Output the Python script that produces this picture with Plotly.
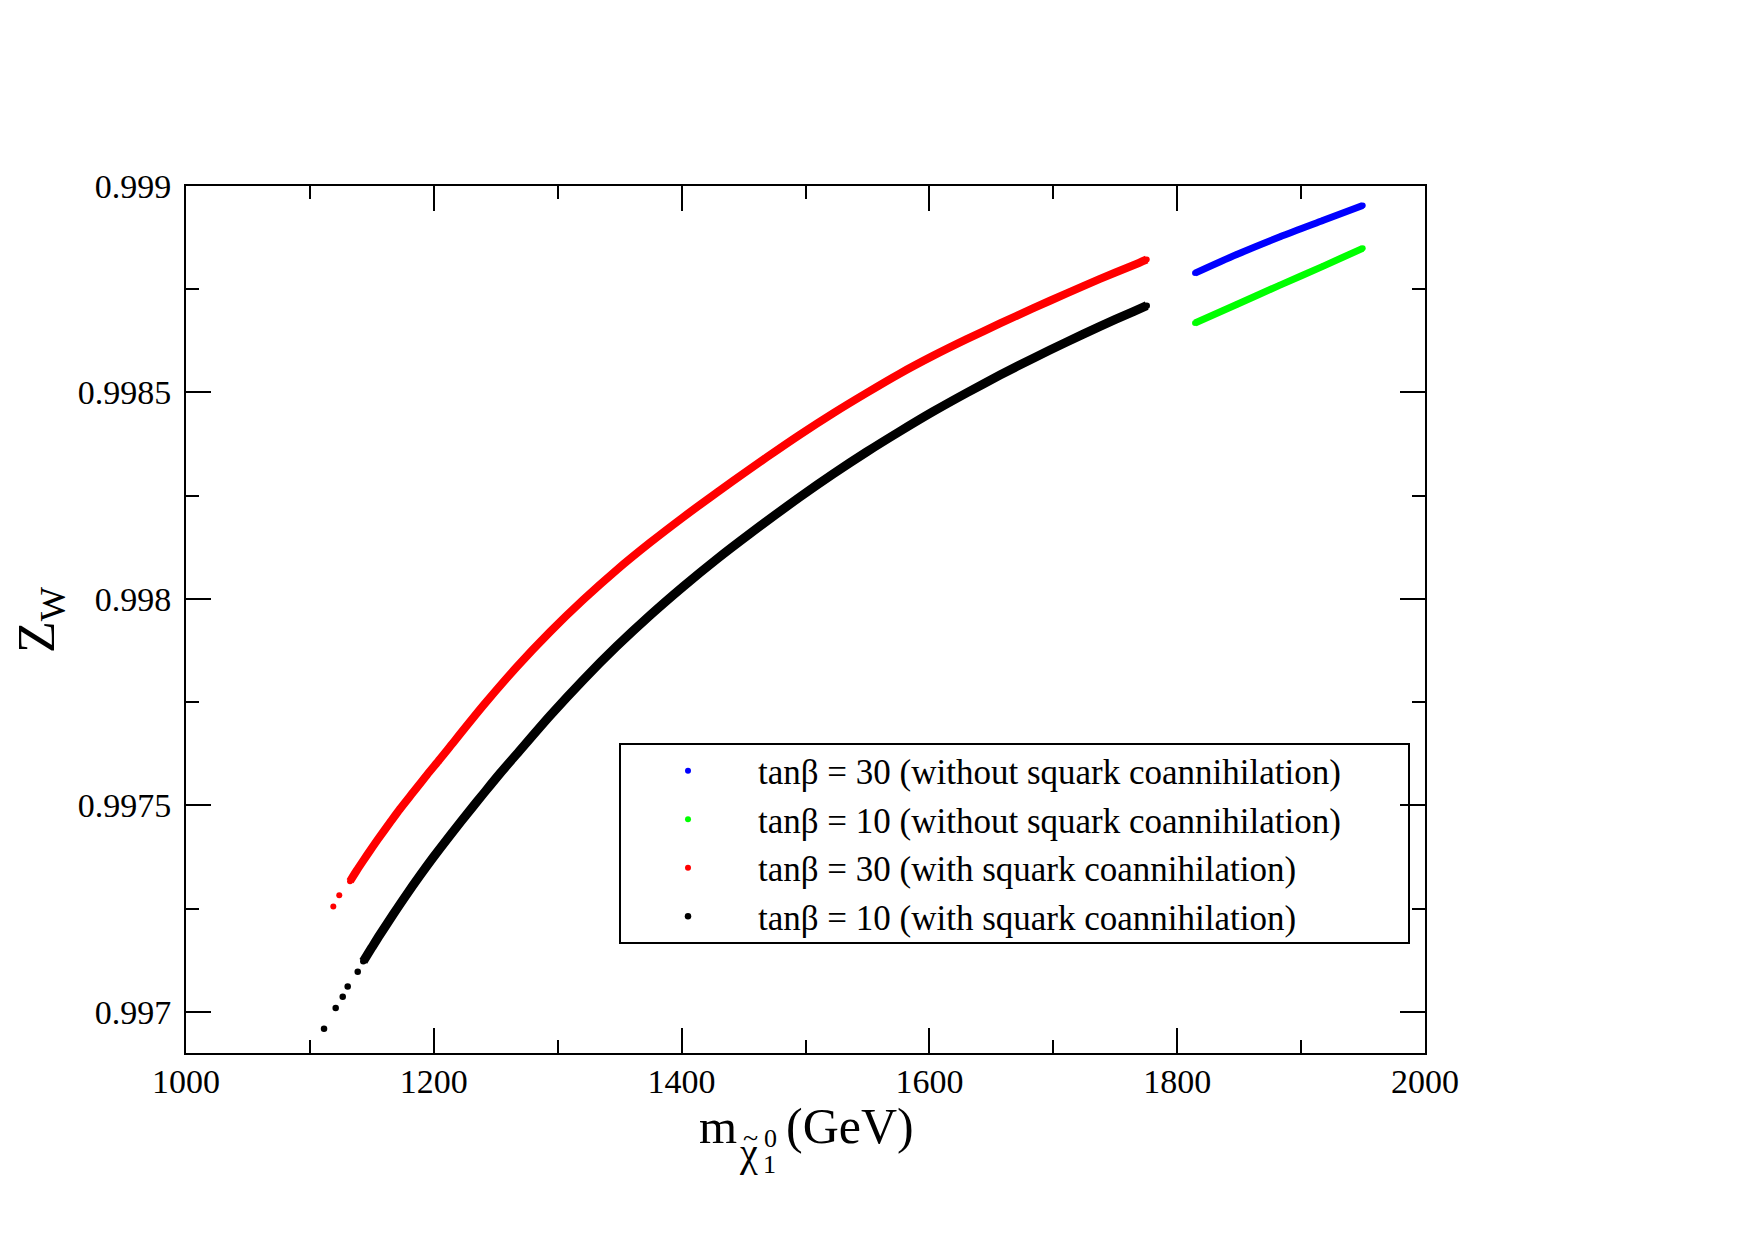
import plotly.graph_objects as go

# ---------------- data ----------------
# tan(beta) = 10, with squark coannihilation (black)
black_sparse_x = [1111.4, 1120.8, 1126.5, 1130.5, 1138.6]
black_sparse_y = [0.996959, 0.997009, 0.997036, 0.997061, 0.997097]
black_x = [1143.1, 1149.9, 1156.6, 1167.3, 1178.1, 1188.9, 1199.6, 1213.1, 1231.9,
           1240.0, 1253.4, 1266.9, 1293.8, 1320.7, 1347.6, 1374.5, 1401.4, 1428.3,
           1455.2, 1495.6, 1522.5, 1549.4, 1576.3, 1603.2, 1630.1, 1657.0, 1683.9,
           1710.8, 1737.7, 1764.6, 1775.4]
black_y = [0.997122, 0.997155, 0.997187, 0.997236, 0.997284, 0.997330, 0.997374, 0.997427,
           0.997498, 0.997528, 0.997577, 0.997624, 0.997717, 0.997804, 0.997885, 0.997960,
           0.998030, 0.998096, 0.998158, 0.998247, 0.998303, 0.998356, 0.998406, 0.998454,
           0.998499, 0.998542, 0.998583, 0.998622, 0.998660, 0.998696, 0.998710]

# tan(beta) = 30, with squark coannihilation (red)
red_sparse_x = [1118.9, 1123.7]
red_sparse_y = [0.997255, 0.997282]
red_x = [1132.4, 1137.8, 1143.1, 1148.5, 1155.2, 1164.6, 1172.7, 1183.5, 1194.3, 1205.0,
         1213.0, 1240.0, 1266.9, 1293.8, 1320.7, 1347.6, 1374.5, 1401.4, 1414.9, 1441.7,
         1468.7, 1495.6, 1522.5, 1549.4, 1576.3, 1603.2, 1630.1, 1657.0, 1683.9, 1710.8,
         1737.7, 1764.6, 1775.4]
red_y = [0.997316, 0.997342, 0.997366, 0.997390, 0.997419, 0.997458, 0.997491, 0.997532,
         0.997573, 0.997612, 0.997642, 0.997742, 0.997835, 0.997920, 0.997998, 0.998070,
         0.998136, 0.998198, 0.998228, 0.998286, 0.998343, 0.998398, 0.998450, 0.998499,
         0.998546, 0.998589, 0.998629, 0.998667, 0.998704, 0.998740, 0.998775, 0.998808,
         0.998822]

# tan(beta) = 30, without squark coannihilation (blue)
blue_x = [1814.4, 1848.0, 1883.0, 1918.0, 1949.7]
blue_y = [0.998789, 0.998834, 0.998877, 0.998917, 0.998953]

# tan(beta) = 10, without squark coannihilation (green)
green_x = [1814.4, 1848.0, 1883.0, 1918.0, 1949.7]
green_y = [0.998668, 0.998713, 0.998760, 0.998806, 0.998849]

x_ticks = [1000, 1200, 1400, 1600, 1800, 2000]
x_ticktext = ["1000", "1200", "1400", "1600", "1800", "2000"]
y_ticks = [0.997, 0.9975, 0.998, 0.9985, 0.999]
y_ticktext = ["0.997", "0.9975", "0.998", "0.9985", "0.999"]

labels = ["tanβ = 30 (without squark coannihilation)",
          "tanβ = 10 (without squark coannihilation)",
          "tanβ = 30 (with squark coannihilation)",
          "tanβ = 10 (with squark coannihilation)"]

FONT = "Liberation Serif, Times New Roman, serif"

fig = go.Figure()

# dense bands (no legend)
fig.add_trace(go.Scatter(x=blue_x, y=blue_y, mode="lines",
                         line=dict(color="#0000ff", width=7, shape="spline", smoothing=0.8),
                         showlegend=False, hoverinfo="skip"))
fig.add_trace(go.Scatter(x=green_x, y=green_y, mode="lines",
                         line=dict(color="#00ff00", width=7, shape="spline", smoothing=0.8),
                         showlegend=False, hoverinfo="skip"))
fig.add_trace(go.Scatter(x=red_x, y=red_y, mode="lines",
                         line=dict(color="#ff0000", width=8, shape="spline", smoothing=0.8),
                         showlegend=False, hoverinfo="skip"))
fig.add_trace(go.Scatter(x=black_x, y=black_y, mode="lines",
                         line=dict(color="#000000", width=9, shape="spline", smoothing=0.8),
                         showlegend=False, hoverinfo="skip"))

# points (legend entries)
fig.add_trace(go.Scatter(x=blue_x, y=blue_y, mode="markers", name=labels[0], legendgroup="a",
                         marker=dict(color="#0000ff", size=6)))
fig.add_trace(go.Scatter(x=green_x, y=green_y, mode="markers", name=labels[1], legendgroup="b",
                         marker=dict(color="#00ff00", size=6)))
fig.add_trace(go.Scatter(x=red_sparse_x + red_x, y=red_sparse_y + red_y, mode="markers",
                         name=labels[2], legendgroup="c",
                         marker=dict(color="#ff0000", size=6)))
fig.add_trace(go.Scatter(x=black_sparse_x + black_x, y=black_sparse_y + black_y, mode="markers",
                         name=labels[3], legendgroup="d",
                         marker=dict(color="#000000", size=6.5)))

# plot area in pixels: left 186, right 1425, top 186, bottom 1053
L, R, T, B = 186, 1425, 186, 1053
W, H = R - L, B - T


def px(xp):
    return (xp - L) / W


def py(yp):
    return (B - yp) / H


axis_common = dict(
    showline=True, linecolor="black", linewidth=2, mirror="ticks",
    ticks="inside", ticklen=25, tickwidth=2, tickcolor="black",
    showgrid=False, zeroline=False,
    tickfont=dict(family=FONT, size=34, color="black"),
)

fig.update_xaxes(range=[1000, 2000], tickmode="array", tickvals=x_ticks, ticktext=x_ticktext,
                 minor=dict(tickmode="linear", tick0=1000, dtick=100, ticks="inside",
                            ticklen=13, tickwidth=2, tickcolor="black", showgrid=False),
                 ticklabelstandoff=-3, **axis_common)
fig.update_yaxes(range=[0.9969, 0.999], tickmode="array", tickvals=y_ticks, ticktext=y_ticktext,
                 minor=dict(tickmode="linear", tick0=0.997, dtick=0.00025, ticks="inside",
                            ticklen=13, tickwidth=2, tickcolor="black", showgrid=False),
                 ticklabelstandoff=6, **axis_common)

# legend frame
fig.add_shape(type="rect", xref="paper", yref="paper",
              x0=px(620), x1=px(1409), y0=py(943), y1=py(744),
              line=dict(color="black", width=2), fillcolor="rgba(0,0,0,0)")

ann = []
# y-axis title
ann.append(dict(text="Z<sub>W</sub>", xref="paper", yref="paper", x=px(40), y=py(620),
                xanchor="center", yanchor="middle", textangle=-90, showarrow=False,
                font=dict(family=FONT, size=52, color="black")))
# x-axis title pieces
ann.append(dict(text="m", xref="paper", yref="paper", x=px(697), y=py(1126),
                xanchor="left", yanchor="middle", showarrow=False,
                font=dict(family=FONT, size=49, color="black")))
ann.append(dict(text="χ", xref="paper", yref="paper", x=px(737), y=py(1152),
                xanchor="left", yanchor="middle", showarrow=False,
                font=dict(family=FONT, size=40, color="black")))
ann.append(dict(text="~", xref="paper", yref="paper", x=px(741), y=py(1137),
                xanchor="left", yanchor="middle", showarrow=False,
                font=dict(family=FONT, size=28, color="black")))
ann.append(dict(text="0", xref="paper", yref="paper", x=px(762), y=py(1138),
                xanchor="left", yanchor="middle", showarrow=False,
                font=dict(family=FONT, size=26, color="black")))
ann.append(dict(text="1", xref="paper", yref="paper", x=px(761), y=py(1164),
                xanchor="left", yanchor="middle", showarrow=False,
                font=dict(family=FONT, size=26, color="black")))
ann.append(dict(text="(GeV)", xref="paper", yref="paper", x=px(784), y=py(1126),
                xanchor="left", yanchor="middle", showarrow=False,
                font=dict(family=FONT, size=50, color="black")))

fig.update_layout(
    width=1754, height=1240,
    margin=dict(l=L, r=1754 - R, t=T, b=1240 - B, autoexpand=False),
    paper_bgcolor="white", plot_bgcolor="white",
    font=dict(family=FONT, color="black"),
    showlegend=True,
    legend=dict(x=px(618), y=py(741.5), xanchor="left", yanchor="top",
                bgcolor="rgba(0,0,0,0)", borderwidth=0, traceorder="grouped",
                tracegroupgap=0, itemwidth=130,
                font=dict(family=FONT, size=35, color="black")),
    annotations=ann,
)

fig.write_html("out.html")
